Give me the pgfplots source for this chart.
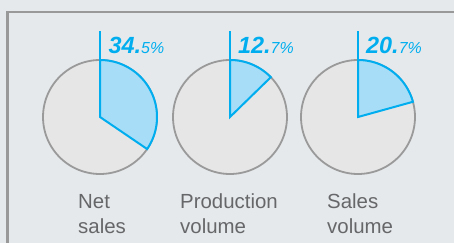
\documentclass[border=0pt]{standalone}
\usepackage{pgfplots}
\pgfplotsset{compat=1.18}
\usepackage{fontspec}
\setmainfont{Liberation Sans}
\definecolor{bgcol}{HTML}{E6E9EC}
\definecolor{bordercol}{HTML}{999999}
\definecolor{piefill}{HTML}{E6E6E7}
\definecolor{piestroke}{HTML}{9A9A9A}
\definecolor{cyanc}{HTML}{00AEEF}
\definecolor{slicefill}{HTML}{A8DDF7}
\definecolor{labcol}{HTML}{666769}
\newcommand{\pct}[2]{{\fontsize{23.5}{23.5}\selectfont\bfseries\itshape #1.}{\fontsize{16}{16}\selectfont\itshape #2\%}}
\begin{document}
\begin{tikzpicture}
\begin{axis}[
  width=454bp, height=243bp, scale only axis,
  xmin=0, xmax=454, ymin=0, ymax=243, y dir=reverse,
  hide axis, clip=true,
]
% background
\addplot[fill=bgcol, draw=none] coordinates {(0,0) (454,0) (454,243) (0,243) (0,0)};
% border
\addplot[bordercol, line width=2.8bp] coordinates {(7.6,243) (7.6,12) (454,12)};
% Pie 1: Net sales 34.5
\addplot[fill=piefill, draw=piestroke, line width=1.8bp, domain=0:360, samples=120] ({100+57*cos(x)},{117-57*sin(x)}) -- cycle;
\addplot[fill=slicefill, draw=cyanc, line width=2bp, domain=90-3.6*34.5:90, samples=60] ({100+57*cos(x)},{117-57*sin(x)}) -- (axis cs:100,117) -- cycle;
\addplot[cyanc, line width=2bp] coordinates {(100,117) (100,31)};
% Pie 2: Production volume 12.7
\addplot[fill=piefill, draw=piestroke, line width=1.8bp, domain=0:360, samples=120] ({230+57*cos(x)},{117-57*sin(x)}) -- cycle;
\addplot[fill=slicefill, draw=cyanc, line width=2bp, domain=90-3.6*12.7:90, samples=40] ({230+57*cos(x)},{117-57*sin(x)}) -- (axis cs:230,117) -- cycle;
\addplot[cyanc, line width=2bp] coordinates {(230,117) (230,31)};
% Pie 3: Sales volume 20.7
\addplot[fill=piefill, draw=piestroke, line width=1.8bp, domain=0:360, samples=120] ({358+57*cos(x)},{117-57*sin(x)}) -- cycle;
\addplot[fill=slicefill, draw=cyanc, line width=2bp, domain=90-3.6*20.7:90, samples=40] ({358+57*cos(x)},{117-57*sin(x)}) -- (axis cs:358,117) -- cycle;
\addplot[cyanc, line width=2bp] coordinates {(358,117) (358,31)};
% percentage labels
\node[anchor=base west, text=cyanc, inner sep=0] at (axis cs:108.5,53) {\pct{34}{5}};
\node[anchor=base west, text=cyanc, inner sep=0] at (axis cs:238,53) {\pct{12}{7}};
\node[anchor=base west, text=cyanc, inner sep=0] at (axis cs:366,53) {\pct{20}{7}};
% category labels
\tikzset{lab/.style={anchor=base west, text=labcol, inner sep=0, font=\fontsize{20.5}{25}\selectfont}}
\node[lab] at (axis cs:78,208.5) {Net};
\node[lab] at (axis cs:78,233.5) {sales};
\node[lab] at (axis cs:180,208.5) {Production};
\node[lab] at (axis cs:180,233.5) {volume};
\node[lab] at (axis cs:327,208.5) {Sales};
\node[lab] at (axis cs:327,233.5) {volume};
\end{axis}
\end{tikzpicture}
\end{document}
